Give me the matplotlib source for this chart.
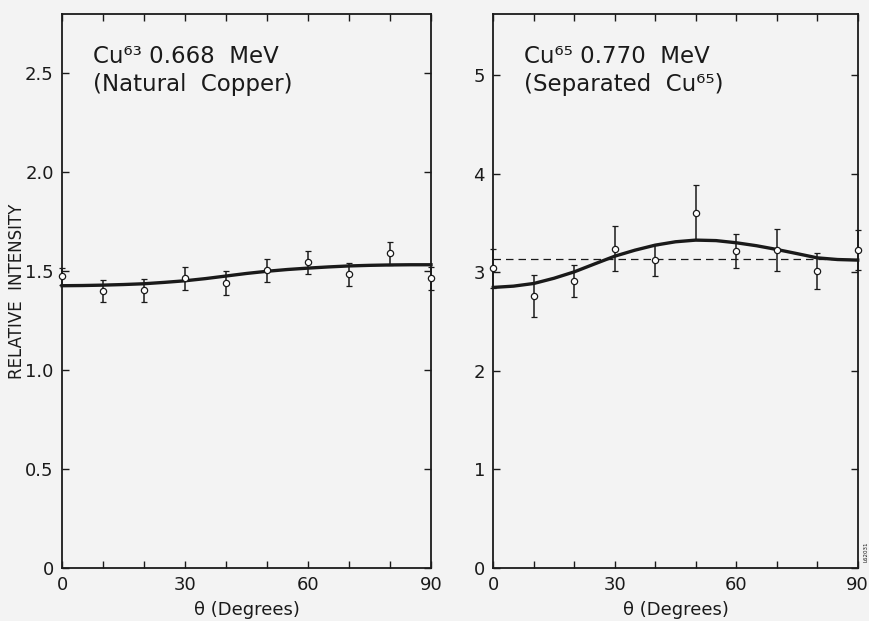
import numpy as np
import matplotlib
matplotlib.use("Agg")
import matplotlib.pyplot as plt

# angles of the measured points (degrees)
theta = [0, 10, 20, 30, 40, 50, 60, 70, 80, 90]

# Cu63 0.668 MeV, natural copper
cu63_val = [1.474, 1.400, 1.403, 1.464, 1.439, 1.506, 1.546, 1.484, 1.590, 1.464]
cu63_err = [0.045, 0.055, 0.058, 0.060, 0.060, 0.058, 0.059, 0.059, 0.059, 0.060]

# Cu65 0.770 MeV, separated Cu65
cu65_val = [3.040, 2.761, 2.914, 3.239, 3.121, 3.604, 3.215, 3.225, 3.012, 3.225]
cu65_err = [0.20, 0.21, 0.16, 0.23, 0.155, 0.28, 0.17, 0.21, 0.185, 0.20]
cu65_iso = 3.134  # dashed isotropic level

fit_theta = [0, 5, 10, 15, 20, 25, 30, 35, 40, 45, 50, 55, 60, 65, 70, 75, 80, 85, 90]
cu63_fit = [1.427, 1.428, 1.430, 1.433, 1.437, 1.444, 1.452, 1.463, 1.476, 1.489,
            1.500, 1.509, 1.516, 1.522, 1.527, 1.530, 1.532, 1.533, 1.533]
cu65_fit = [2.847, 2.860, 2.887, 2.940, 3.005, 3.085, 3.164, 3.225, 3.276, 3.310,
            3.327, 3.322, 3.300, 3.270, 3.232, 3.190, 3.147, 3.130, 3.124]

bg = "#f3f3f3"
ink = "#1a1a1a"
plt.rcParams["font.family"] = ["DejaVu Sans"]

fig = plt.figure(figsize=(8.7, 6.21), dpi=100, facecolor=bg)
ax1 = fig.add_axes([0.0713, 0.0853, 0.4241, 0.892])
ax2 = fig.add_axes([0.567, 0.0853, 0.4189, 0.892])


def style(ax, ylim, yticks, ylabels):
    ax.set_facecolor(bg)
    ax.set_xlim(0, 90)
    ax.set_ylim(*ylim)
    ax.set_xticks([0, 30, 60, 90])
    ax.set_xticks([10, 20, 40, 50, 70, 80], minor=True)
    ax.set_yticks(yticks)
    ax.set_yticklabels(ylabels)
    ax.tick_params(which="both", direction="in", top=True, right=True,
                   color=ink, width=1.0, labelsize=13, labelcolor=ink)
    ax.tick_params(which="major", length=5, pad=6)
    ax.tick_params(which="minor", length=5)
    for s in ax.spines.values():
        s.set_color(ink)
        s.set_linewidth(1.3)
    ax.set_xlabel("θ (Degrees)", fontsize=13, color=ink, labelpad=5)


def draw(ax, vals, errs, fit):
    ax.plot(fit_theta, fit, color=ink, lw=2.4, zorder=3, clip_on=False)
    ax.errorbar(theta, vals, yerr=errs, fmt="o", ms=4.5, mfc="white", mec=ink,
                mew=0.9, ecolor=ink, elinewidth=1.1, capsize=2.5, capthick=1.1,
                zorder=4, clip_on=False)


style(ax1, (0, 2.8), [0, 0.5, 1.0, 1.5, 2.0, 2.5], ["0", "0.5", "1.0", "1.5", "2.0", "2.5"])
draw(ax1, cu63_val, cu63_err, cu63_fit)
ax1.set_ylabel("RELATIVE  INTENSITY", fontsize=12, color=ink)
ax1.yaxis.set_label_coords(-0.098, 0.5)
ax1.text(0.085, 0.945, "Cu⁶³ 0.668  MeV\n(Natural  Copper)", transform=ax1.transAxes,
         fontsize=16.5, color=ink, va="top", ha="left", linespacing=1.3)

style(ax2, (0, 5.62), [0, 1, 2, 3, 4, 5], ["0", "1", "2", "3", "4", "5"])
ax2.axhline(cu65_iso, color=ink, lw=0.9, ls=(0, (6, 4)), zorder=2)
draw(ax2, cu65_val, cu65_err, cu65_fit)
ax2.text(0.085, 0.945, "Cu⁶⁵ 0.770  MeV\n(Separated  Cu⁶⁵)", transform=ax2.transAxes,
         fontsize=16.5, color=ink, va="top", ha="left", linespacing=1.3)
ax2.text(1.015, 0.01, "L62031", transform=ax2.transAxes, fontsize=4, rotation=90,
         color=ink, va="bottom", ha="left")

fig.savefig("out.png", dpi=100, facecolor=bg)
